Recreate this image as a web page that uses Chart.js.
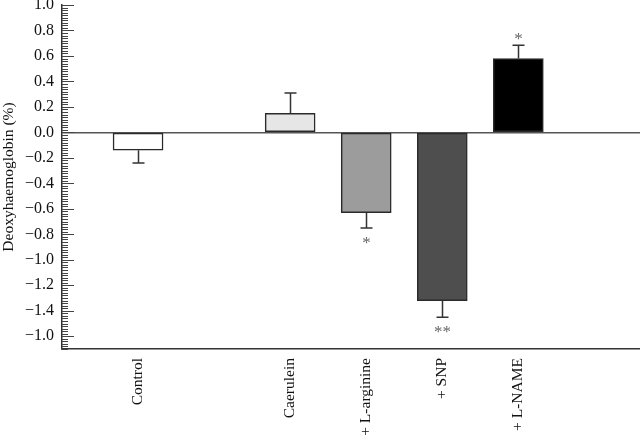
<!DOCTYPE html>
<html>
<head>
<meta charset="utf-8">
<script src="https://cdn.jsdelivr.net/npm/chart.js@4/dist/chart.umd.min.js"></script>
<style>
  html, body { margin: 0; padding: 0; background: #fff; }
  #wrap { width: 640px; height: 442px; position: relative; }
</style>
</head>
<body>
<div id="wrap"><canvas id="chart"></canvas></div>
<script>
// groups and where they sit on the x axis (gap after Control)
const categories = ['Control', 'Caerulein', '+ L-arginine', '+ SNP', '+ L-NAME'];
const positions = [1, 3, 4, 5, 6];
const values = [-0.14, 0.15, -0.63, -1.32, 0.58];
const errors = [0.10, 0.16, 0.12, 0.13, 0.105];
const marks = ['', '', '*', '**', '*'];
const barColors = ['#ffffff', '#e6e6e6', '#9c9c9c', '#4e4e4e', '#000000'];

const yTickValues = [1.0, 0.8, 0.6, 0.4, 0.2, 0.0, -0.2, -0.4, -0.6, -0.8, -1.0, -1.2, -1.4, -1.6];
const yTickLabels = ['1.0', '0.8', '0.6', '0.4', '0.2', '0.0', '\u22120.2', '\u22120.4', '\u22120.6',
  '\u22120.8', '\u22121.0', '\u22121.2', '\u22121.4', '\u22121.0'];

const serif = '"Liberation Serif", "Times New Roman", serif';

// small inward ticks on the y axis, every 0.02, longer every 0.2
const innerTicks = {
  id: 'innerTicks',
  afterDraw(chart) {
    const y = chart.scales.y;
    const ctx = chart.ctx;
    ctx.save();
    ctx.strokeStyle = '#444';
    ctx.lineWidth = 1;
    for (let k = -85; k <= 50; k++) {
      const py = Math.round(y.getPixelForValue(k / 50)) + 0.5;
      const len = k % 10 === 0 ? 12 : 6;
      ctx.beginPath();
      ctx.moveTo(y.right, py);
      ctx.lineTo(y.right + len, py);
      ctx.stroke();
    }
    ctx.restore();
  }
};

// one-sided error bars and significance stars
const errorBars = {
  id: 'errorBars',
  afterDatasetsDraw(chart) {
    const y = chart.scales.y;
    const ctx = chart.ctx;
    const bars = chart.getDatasetMeta(0).data;
    ctx.save();
    bars.forEach((bar, i) => {
      const v = values[i];
      const dir = v >= 0 ? 1 : -1;
      const yEnd = y.getPixelForValue(v);
      const yErr = y.getPixelForValue(v + dir * errors[i]);
      const x = Math.round(bar.x) + 0.5;
      ctx.strokeStyle = '#333';
      ctx.lineWidth = 1.5;
      ctx.beginPath();
      ctx.moveTo(x, yEnd);
      ctx.lineTo(x, yErr);
      ctx.moveTo(x - 6, yErr);
      ctx.lineTo(x + 6, yErr);
      ctx.stroke();
      if (marks[i]) {
        const cy = dir > 0 ? yErr - 9 : yErr + 12;
        ctx.fillStyle = '#666';
        ctx.font = '17px ' + serif;
        ctx.textAlign = 'center';
        ctx.textBaseline = 'alphabetic';
        ctx.fillText(marks[i], x, cy + 0.45 * 17);
      }
    });
    ctx.restore();
  }
};

new Chart(document.getElementById('chart'), {
  type: 'bar',
  data: {
    datasets: [{
      data: positions.map((p, i) => ({ x: p, y: values[i] })),
      backgroundColor: barColors,
      borderColor: '#2a2a2a',
      borderWidth: 1.5,
      borderSkipped: false,
      barThickness: 50
    }]
  },
  options: {
    responsive: true,
    maintainAspectRatio: false,
    animation: false,
    layout: { padding: 0 },
    plugins: {
      legend: { display: false },
      tooltip: { enabled: false }
    },
    scales: {
      x: {
        type: 'linear',
        offset: false,
        min: 0,
        max: 7.6,
        grid: { display: false, drawTicks: false },
        border: { display: true, color: '#333', width: 1.5 },
        afterBuildTicks: (scale) => { scale.ticks = positions.map(p => ({ value: p })); },
        afterFit: (scale) => { scale.height = 93; },
        ticks: {
          minRotation: 90,
          maxRotation: 90,
          padding: 9,
          color: '#111',
          font: { family: serif, size: 15.5 },
          callback: (value) => categories[positions.indexOf(value)]
        }
      },
      y: {
        min: -1.7,
        max: 1.0,
        grid: {
          drawTicks: false,
          color: (c) => (c.tick && Math.abs(c.tick.value) < 1e-9 ? '#555' : 'rgba(0,0,0,0)'),
          lineWidth: 1.5
        },
        border: { display: true, color: '#333', width: 1.5 },
        afterBuildTicks: (scale) => { scale.ticks = yTickValues.slice().reverse().map(v => ({ value: v })); },
        afterFit: (scale) => { scale.width = 62; scale.paddingTop = 5; scale.paddingBottom = 0; },
        title: {
          display: true,
          text: 'Deoxyhaemoglobin (%)',
          color: '#111',
          padding: 0,
          font: { family: serif, size: 15.5 }
        },
        ticks: {
          padding: 8,
          color: '#111',
          font: { family: serif, size: 16, lineHeight: 0.7 },
          callback: (value) => {
            const i = yTickValues.findIndex(t => Math.abs(t - value) < 1e-9);
            return i >= 0 ? yTickLabels[i] : '';
          }
        }
      }
    }
  },
  plugins: [innerTicks, errorBars]
});
</script>
</body>
</html>
